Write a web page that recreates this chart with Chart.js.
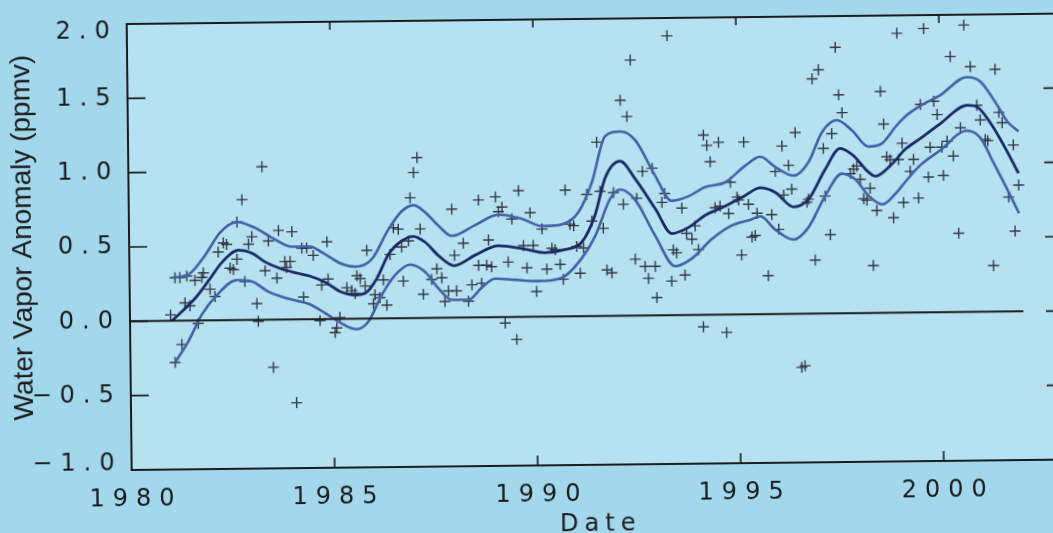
<!DOCTYPE html>
<html>
<head>
<meta charset="utf-8">
<script src="https://cdn.jsdelivr.net/npm/chart.js@4.4.1/dist/chart.umd.min.js"></script>
<style>
  html, body { margin: 0; padding: 0; width: 1053px; height: 533px; overflow: hidden; background: #a2d7ec; }
  #c { position: absolute; left: 0; top: 0; transform-origin: 130px 320px; transform: rotate(-0.64deg); }
</style>
</head>
<body>
<canvas id="c" width="1090" height="550"></canvas>
<script>
// ---- data ----
const obsYears = [
  1981.00,1981.10,1981.12,1981.24,1981.27,1981.36,1981.41,1981.48,1981.61,1981.68,1981.78,1981.82,1981.98,
  1982.10,1982.19,1982.32,1982.40,1982.48,1982.56,1982.65,1982.66,1982.79,1982.84,1982.94,
  1983.02,1983.13,1983.16,1983.29,1983.34,1983.43,1983.52,1983.63,1983.68,1983.83,1983.87,1983.96,
  1984.01,1984.08,1984.25,1984.28,1984.37,1984.53,1984.68,1984.73,1984.87,1984.89,
  1985.05,1985.09,1985.17,1985.35,1985.47,1985.55,1985.60,1985.68,1985.80,1985.85,
  1986.00,1986.04,1986.16,1986.25,1986.33,1986.42,1986.51,1986.63,1986.71,1986.74,1986.88,1986.93,
  1987.02,1987.11,1987.17,1987.23,1987.44,1987.57,1987.69,1987.76,1987.85,1987.95,
  1988.01,1988.05,1988.23,1988.34,1988.43,1988.60,1988.61,1988.67,1988.80,1988.85,1988.92,
  1989.03,1989.10,1989.19,1989.24,1989.33,1989.43,1989.52,1989.60,1989.71,1989.79,1989.88,1989.95,
  1990.02,1990.17,1990.28,1990.41,1990.49,1990.61,1990.68,1990.75,1990.86,1990.95,
  1991.02,1991.10,1991.19,1991.28,1991.40,1991.54,1991.61,1991.68,1991.76,1991.88,1991.94,
  1992.13,1992.18,1992.29,1992.39,1992.46,1992.51,1992.66,1992.70,1992.78,1992.90,1992.95,1992.98,
  1993.13,1993.20,1993.30,1993.35,1993.40,1993.48,1993.62,1993.68,1993.73,1993.86,1993.94,
  1994.02,1994.12,1994.17,1994.25,1994.33,1994.44,1994.54,1994.56,1994.69,1994.77,1994.82,1994.98,
  1995.02,1995.08,1995.16,1995.26,1995.34,1995.42,1995.47,1995.73,1995.83,1995.93,
  1996.00,1996.10,1996.13,1996.26,1996.33,1996.43,1996.53,1996.61,1996.70,1996.74,1996.86,1996.89,
  1997.02,1997.12,1997.15,1997.27,1997.33,1997.44,1997.51,1997.59,1997.78,1997.86,1997.94,
  1998.02,1998.10,1998.18,1998.26,1998.32,1998.42,1998.54,1998.61,1998.68,1998.76,1998.83,1998.96,1998.97,
  1999.06,1999.08,1999.25,1999.34,1999.45,1999.52,1999.62,1999.70,1999.75,1999.85,1999.93,
  2000.04,2000.07,2000.17,2000.27,2000.32,2000.43,2000.50,2000.61,2000.76,2000.91,2000.99,
  2001.11,2001.17,2001.28,2001.37,2001.45,2001.53,2001.67,2001.80,2001.82,2001.92
];
const obsValues = [
  0.04,-0.28,0.29,0.29,-0.16,0.12,0.30,0.10,0.27,-0.02,0.29,0.32,0.21,
  0.16,0.46,0.52,0.51,0.35,0.34,0.41,0.66,0.81,0.26,0.51,
  0.56,0.11,-0.01,1.03,0.33,0.53,-0.32,0.28,0.60,0.39,0.35,0.39,
  0.59,-0.56,0.48,0.15,0.48,0.43,-0.01,0.23,0.52,0.27,
  -0.09,-0.06,0.01,0.21,0.19,0.17,0.29,0.27,0.22,0.46,
  0.10,0.16,0.14,0.26,0.09,0.43,0.61,0.60,0.48,0.25,0.52,0.81,
  0.98,1.08,0.60,0.16,0.26,0.33,0.27,0.11,0.18,0.73,
  0.42,0.18,0.50,0.11,0.22,0.35,0.79,0.23,0.35,0.52,0.34,
  0.81,0.71,0.74,-0.04,0.37,0.66,-0.15,0.85,0.48,0.33,0.70,0.48,
  0.17,0.59,0.32,0.46,0.45,0.35,0.25,0.85,0.62,0.61,
  0.47,0.29,0.46,0.82,0.64,1.17,0.84,0.59,0.31,0.29,0.83,
  1.45,0.75,1.34,1.72,0.38,0.79,0.97,0.33,0.25,0.99,0.33,0.12,
  0.76,0.82,1.88,0.23,0.44,0.42,0.72,0.27,0.55,0.51,0.60,
  0.44,-0.08,1.21,1.14,1.03,0.72,1.16,0.73,-0.12,0.68,0.89,0.79,
  0.77,0.40,1.16,0.74,0.52,0.53,0.68,0.26,0.67,0.96,
  0.57,1.13,0.80,1.00,0.84,1.22,-0.36,-0.35,0.75,0.77,1.58,0.36,
  1.64,1.11,0.79,0.53,1.21,1.79,1.47,1.35,0.94,0.97,0.99,
  0.90,0.77,0.76,0.84,0.32,0.69,1.49,1.27,1.05,1.03,0.64,1.88,1.03,
  1.14,0.74,0.95,1.03,0.77,1.40,1.91,0.91,1.11,1.42,1.33,
  1.11,0.92,1.15,1.72,1.05,0.53,1.24,1.93,1.65,1.39,1.29,
  1.16,1.15,0.31,1.63,1.34,1.27,0.77,1.12,0.54,0.85
];

const centerYears = [1981.03,1981.61,1981.98,1982.28,1982.69,1983.02,1983.34,1983.75,1984.16,1984.45,1984.81,1985.22,1985.55,1985.84,1986.09,1986.38,1986.71,1987.00,1987.29,1987.61,1988.00,1988.52,1989.09,1989.67,1990.24,1990.73,1991.15,1991.48,1991.74,1992.11,1992.48,1992.96,1993.37,1993.78,1994.19,1994.61,1995.18,1995.55,1995.92,1996.37,1996.74,1997.16,1997.53,1997.86,1998.18,1998.39,1998.80,1999.14,1999.51,2000.01,2000.67,2000.91,2001.24,2001.56,2001.92];
const centerValues = [0.00,0.15,0.28,0.39,0.47,0.45,0.39,0.34,0.31,0.29,0.25,0.18,0.16,0.18,0.27,0.43,0.52,0.55,0.51,0.42,0.35,0.42,0.48,0.46,0.43,0.45,0.50,0.68,0.93,1.04,0.92,0.72,0.55,0.59,0.67,0.72,0.80,0.85,0.82,0.72,0.77,0.97,1.11,1.06,0.96,0.92,1.00,1.10,1.17,1.27,1.39,1.38,1.27,1.12,0.93];

const upperYears = [1981.04,1981.45,1981.87,1982.24,1982.66,1983.10,1983.59,1984.00,1984.45,1984.74,1985.23,1985.56,1985.97,1986.39,1986.72,1987.01,1987.30,1987.62,1987.95,1988.52,1989.10,1989.68,1990.17,1990.66,1991.07,1991.41,1991.75,1992.12,1992.49,1992.97,1993.37,1993.79,1994.20,1994.69,1995.19,1995.56,1995.93,1996.38,1996.75,1997.09,1997.46,1997.83,1998.23,1998.56,1998.90,1999.15,1999.52,2000.01,2000.67,2001.00,2001.41,2001.65,2001.93];
const upperValues = [0.29,0.31,0.44,0.59,0.66,0.62,0.54,0.49,0.49,0.45,0.37,0.35,0.40,0.60,0.72,0.76,0.71,0.62,0.55,0.62,0.69,0.66,0.61,0.62,0.70,0.90,1.21,1.24,1.18,0.94,0.77,0.80,0.86,0.89,1.00,1.06,0.99,0.93,1.02,1.22,1.30,1.23,1.12,1.14,1.25,1.32,1.39,1.46,1.58,1.55,1.39,1.28,1.21];

const lowerYears = [1981.10,1981.43,1981.77,1982.18,1982.64,1983.01,1983.41,1983.91,1984.44,1984.81,1985.21,1985.58,1985.87,1986.21,1986.54,1986.91,1987.28,1987.60,1987.93,1988.34,1988.67,1989.00,1989.49,1990.07,1990.64,1991.14,1991.48,1991.86,1992.11,1992.47,1992.95,1993.44,1993.85,1994.35,1994.85,1995.34,1995.55,1995.91,1996.36,1996.73,1997.15,1997.57,1997.90,1998.22,1998.56,1998.88,1999.13,1999.50,2000.00,2000.66,2000.99,2001.31,2001.64,2001.92];
const lowerValues = [-0.28,-0.14,0.04,0.18,0.27,0.26,0.19,0.14,0.10,0.04,-0.03,-0.07,-0.02,0.16,0.29,0.36,0.31,0.20,0.12,0.12,0.20,0.26,0.25,0.24,0.26,0.39,0.54,0.79,0.85,0.78,0.54,0.33,0.38,0.51,0.60,0.64,0.66,0.57,0.50,0.58,0.79,0.94,0.90,0.79,0.73,0.80,0.88,0.99,1.09,1.22,1.17,1.00,0.82,0.66];

const zeroLineYears = [1980, 2002];
const xTicks = [1980, 1985, 1990, 1995, 2000];
const yTicks = [-1.0, -0.5, 0.0, 0.5, 1.0, 1.5, 2.0];
const xRange = [1980, 2003];
const yRange = [-1.0, 2.0];
const xTitle = 'Date';
const yTitle = 'Water Vapor Anomaly (ppmv)';

// ---- styling ----
const OUTER = '#a2d7ec';
const INNER = '#b6e1f0';
const AXIS = '#1c1c1c';
const TEXT = '#1c1c1c';
const CENTER_COLOR = '#1b2a66';
const BAND_COLOR = '#4262a8';
const MARK_COLOR = 'rgba(35,35,45,0.88)';
const TICK_FONT = 'DejaVu Sans';
const TICK_SIZE = 24;

function pts(xs, ys) { return xs.map((x, i) => ({ x: x, y: ys[i] })); }
function fmt(v) { const s = Math.abs(v).toFixed(1); return v < 0 ? '\u2212' + s : s; }

const framePlugin = {
  id: 'frame',
  beforeDraw(chart) {
    const { ctx, chartArea: a, width, height } = chart;
    ctx.save();
    ctx.fillStyle = OUTER;
    ctx.fillRect(0, 0, width, height);
    ctx.fillStyle = INNER;
    ctx.fillRect(a.left, a.top, a.right - a.left, a.bottom - a.top);
    ctx.restore();
    ctx.letterSpacing = '8px';
  },
  afterDraw(chart) {
    const { ctx, chartArea: a } = chart;
    const xs = chart.scales.x, ys = chart.scales.y;
    ctx.save();
    ctx.letterSpacing = '0px';
    ctx.strokeStyle = AXIS;
    ctx.lineWidth = 2;
    ctx.beginPath();
    ctx.moveTo(a.left, a.top);
    ctx.lineTo(a.right, a.top);
    ctx.lineTo(a.right, a.bottom);
    ctx.stroke();
    ctx.lineWidth = 1.6;
    ctx.beginPath();
    yTicks.forEach(v => {
      const py = ys.getPixelForValue(v);
      ctx.moveTo(a.left, py); ctx.lineTo(a.left + 18, py);
      ctx.moveTo(a.right, py); ctx.lineTo(a.right - 18, py);
    });
    xTicks.forEach(v => {
      const px = xs.getPixelForValue(v);
      ctx.moveTo(px, a.bottom); ctx.lineTo(px, a.bottom - 10);
      ctx.moveTo(px, a.top); ctx.lineTo(px, a.top + 8);
    });
    ctx.stroke();

    // axis titles
    ctx.fillStyle = TEXT;
    ctx.font = '24px "DejaVu Sans"';
    ctx.letterSpacing = '6px';
    ctx.textAlign = 'center';
    ctx.textBaseline = 'middle';
    ctx.fillText(xTitle, (a.left + a.right) / 2 + 1.5, 530);

    ctx.letterSpacing = '0px';
    ctx.font = '28px "Liberation Sans", Arial, sans-serif';
    ctx.translate(32, 236.5);
    ctx.rotate(-Math.PI / 2);
    ctx.textAlign = 'center';
    ctx.textBaseline = 'alphabetic';
    ctx.fillText(yTitle, 0, 0);
    ctx.restore();
  }
};

new Chart(document.getElementById('c'), {
  type: 'scatter',
  data: {
    datasets: [
      {
        label: 'Zero',
        data: pts(zeroLineYears, [0, 0]),
        showLine: true, borderColor: AXIS, borderWidth: 2, pointRadius: 0
      },
      {
        label: 'Upper',
        data: pts(upperYears, upperValues),
        showLine: true, borderColor: BAND_COLOR, borderWidth: 2.6, pointRadius: 0,
        cubicInterpolationMode: 'monotone'
      },
      {
        label: 'Lower',
        data: pts(lowerYears, lowerValues),
        showLine: true, borderColor: BAND_COLOR, borderWidth: 2.6, pointRadius: 0,
        cubicInterpolationMode: 'monotone'
      },
      {
        label: 'Center',
        data: pts(centerYears, centerValues),
        showLine: true, borderColor: CENTER_COLOR, borderWidth: 2.8, pointRadius: 0,
        cubicInterpolationMode: 'monotone'
      },
      {
        label: 'Observations',
        data: pts(obsYears, obsValues),
        showLine: false, pointStyle: 'cross', pointRadius: 5.5,
        borderColor: MARK_COLOR, backgroundColor: MARK_COLOR, pointBorderWidth: 1.4
      }
    ]
  },
  options: {
    responsive: false,
    animation: false,
    devicePixelRatio: 1,
    layout: { padding: { left: 0, right: 26, top: 20, bottom: 0 } },
    plugins: { legend: { display: false }, tooltip: { enabled: false } },
    scales: {
      x: {
        type: 'linear', position: 'bottom',
        min: xRange[0], max: xRange[1],
        afterBuildTicks: s => { s.ticks = xTicks.map(v => ({ value: v })); },
        afterFit: s => { s.height = 80; },
        grid: { display: false, drawTicks: false },
        border: { display: true, color: AXIS, width: 2 },
        ticks: {
          color: TEXT, padding: 15, labelOffset: 4, maxRotation: 0, autoSkip: false,
          font: { family: TICK_FONT, size: TICK_SIZE },
          callback: v => String(v)
        },
        title: { display: false }
      },
      y: {
        type: 'linear', position: 'left',
        min: yRange[0], max: yRange[1],
        afterBuildTicks: s => { s.ticks = yTicks.map(v => ({ value: v })); },
        afterFit: s => { s.width = 130; },
        grid: { display: false, drawTicks: false },
        border: { display: true, color: AXIS, width: 2 },
        ticks: {
          color: TEXT, padding: 9,
          font: ctx => {
            const v = ctx.tick ? ctx.tick.value : null;
            let lh = 1.2;
            if (v === yRange[1]) lh = 15 / TICK_SIZE;
            if (v === yRange[0]) lh = 13 / TICK_SIZE;
            return { family: TICK_FONT, size: TICK_SIZE, lineHeight: lh };
          },
          callback: v => (v === yRange[1] ? ['', fmt(v)] : v === yRange[0] ? [fmt(v), ''] : fmt(v))
        },
        title: { display: false }
      }
    }
  },
  plugins: [framePlugin]
});
</script>
</body>
</html>
